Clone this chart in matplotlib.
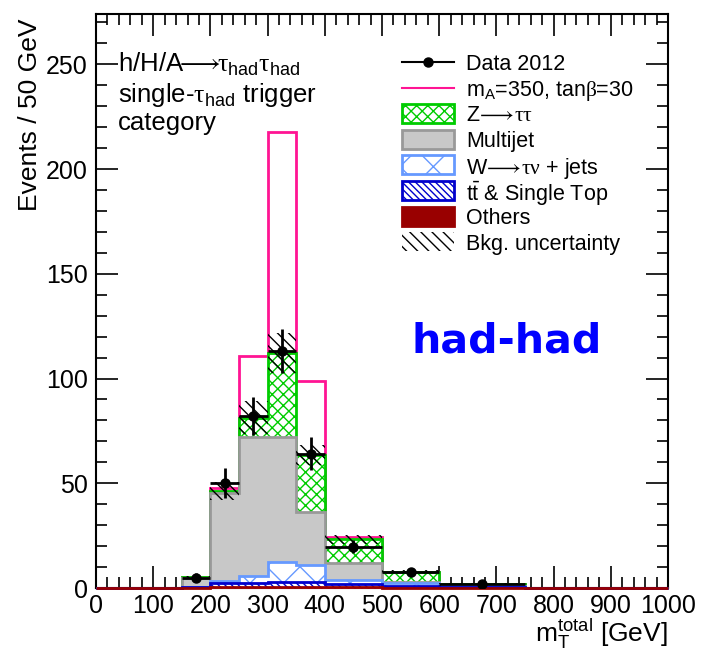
import numpy as np
import matplotlib
matplotlib.use("Agg")
import matplotlib.pyplot as plt
from matplotlib.lines import Line2D
from matplotlib.patches import Rectangle
from matplotlib.ticker import MultipleLocator

plt.rcParams['font.family'] = ['Liberation Sans', 'DejaVu Sans']
plt.rcParams['mathtext.fontset'] = 'custom'
plt.rcParams['mathtext.rm'] = 'Liberation Sans'
plt.rcParams['mathtext.it'] = 'Liberation Sans:italic'
plt.rcParams['mathtext.bf'] = 'Liberation Sans:bold'
plt.rcParams['mathtext.sf'] = 'Liberation Serif'   # upright serif Greek
plt.rcParams['mathtext.fallback'] = 'stix'
plt.rcParams['hatch.linewidth'] = 1.0

# Bin edges in m_T^total [GeV] (variable width, normalised to events / 50 GeV)
bin_edges = [0, 150, 200, 250, 300, 350, 400, 500, 600, 750, 1000]

# Background contributions per bin (events / 50 GeV), bottom of the stack first
others   = [0.0, 0.1, 0.3, 0.3, 0.4, 0.4, 0.3, 0.1, 0.05, 0.0]
ttbar    = [0.0, 0.3, 2.3, 1.9, 2.3, 2.6, 1.7, 0.9, 0.35, 0.0]
wjets    = [0.0, 0.2, 0.7, 3.5, 9.5, 8.0, 1.8, 1.2, 0.4, 0.0]
multijet = [0.0, 4.4, 41.9, 66.2, 59.8, 25.4, 8.0, 0.8, 0.2, 0.0]
ztautau  = [0.0, 0.2, 1.1, 9.4, 40.0, 27.1, 11.4, 4.8, 1.1, 0.0]
bkg_unc  = [0.0, 0.5, 4.5, 8.0, 9.5, 5.0, 2.0, 0.8, 0.3, 0.0]

# Signal m_A = 350 GeV, tan(beta) = 30, stacked on the background
signal   = [0.0, 0.0, 1.2, 29.4, 105.7, 35.3, 1.3, 0.0, 0.0, 0.0]

# Data 2012 (events / 50 GeV) with statistical errors
data     = [np.nan, 5.0, 50.2, 82.2, 113.0, 64.2, 19.7, 7.6, 1.8, np.nan]
data_err = [np.nan, 2.2, 7.1, 9.1, 10.6, 8.0, 3.1, 1.9, 0.8, np.nan]

edges = np.array(bin_edges, dtype=float)
centers = 0.5 * (edges[1:] + edges[:-1])
half_w = 0.5 * (edges[1:] - edges[:-1])

# Cumulative stack
c_oth = np.array(others)
c_tt = c_oth + np.array(ttbar)
c_w = c_tt + np.array(wjets)
c_mj = c_w + np.array(multijet)
c_z = c_mj + np.array(ztautau)
c_sig = c_z + np.array(signal)
unc = np.array(bkg_unc)

W, H = 701, 653
fig = plt.figure(figsize=(W / 100, H / 100), dpi=100)
ax = fig.add_axes([96 / W, 65 / H, 572 / W, 574 / H])

col_sig = '#ff1493'
col_z = '#00cc00'
col_mj_f = '#c8c8c8'
col_mj_e = '#999999'
col_w = '#6699ff'
col_tt = '#0000cc'
col_oth = '#990000'

styles = {
    'z':   dict(facecolor='white', edgecolor=col_z, hatch='xxx', lw=2),
    'mj':  dict(facecolor=col_mj_f, edgecolor=col_mj_e, lw=2),
    'w':   dict(facecolor='white', edgecolor=col_w, hatch='x', lw=2),
    'tt':  dict(facecolor='white', edgecolor=col_tt, hatch='\\' * 5, lw=2),
    'oth': dict(facecolor=col_oth, edgecolor=col_oth, lw=2),
    'unc': dict(facecolor='none', edgecolor='black', hatch='\\' * 3, lw=0),
}

# Signal + background outline (underneath the stack)
ax.stairs(c_sig, edges, baseline=0, fill=False, color=col_sig, lw=2, zorder=1)

# Stack: each cumulative histogram drawn from zero, largest first
for z, (vals, key) in enumerate([(c_z, 'z'), (c_mj, 'mj'), (c_w, 'w'),
                                 (c_tt, 'tt'), (c_oth, 'oth')]):
    ax.stairs(vals, edges, baseline=0, fill=True, zorder=2 + z,
              clip_on=False, **styles[key])

# Background uncertainty band
ax.stairs(c_z + unc, edges, baseline=c_z - unc, fill=True, zorder=8,
          **styles['unc'])

# Data points
ax.errorbar(centers, data, yerr=data_err, xerr=half_w, fmt='o', color='black',
            markersize=6.5, elinewidth=2, capsize=0, zorder=10)

ax.set_xlim(0, 1000)
ax.set_ylim(0, 274)
ax.xaxis.set_major_locator(MultipleLocator(100))
ax.xaxis.set_minor_locator(MultipleLocator(20))
ax.yaxis.set_major_locator(MultipleLocator(50))
ax.yaxis.set_minor_locator(MultipleLocator(10))
ax.tick_params(which='both', direction='in', top=True, right=True, width=1.2,
               labelsize=18)
ax.tick_params(which='major', length=16)
ax.tick_params(which='minor', length=8)
ax.tick_params(axis='x', pad=4)
ax.tick_params(axis='y', pad=6)
for s in ax.spines.values():
    s.set_linewidth(1.5)

fig.text(30 / W, 1 - 115 / H, 'Events / 50 GeV', rotation=90,
         ha='center', va='center', fontsize=19)
fig.text(668 / W, 1 - 642 / H, r'$\mathrm{m_T^{total}}$ [GeV]',
         ha='right', va='baseline', fontsize=19)

ARROW = r'$\!\longrightarrow\!$'
ARROW_TIGHT = r'$\!\!\longrightarrow\!\!$'
tau_had = r'$\mathsf{\tau}_{\mathrm{had}}$'
ax.text(38.5, 246.2, 'h/H/A' + ARROW_TIGHT + tau_had + tau_had,
        fontsize=18.5, va='baseline', ha='left')
ax.text(38.5, 231.9, 'single-' + tau_had + ' trigger',
        fontsize=18.5, va='baseline', ha='left')
ax.text(38.5, 218.5, 'category', fontsize=18.5, va='baseline', ha='left')

ax.text(718.5, 112.3, 'had-had', color='#0000ff', fontsize=29.5,
        fontweight='bold', family='DejaVu Sans', ha='center', va='baseline')

# Legend, laid out row by row in figure pixels
labels = [
    'Data 2012',
    r'm$_{\mathrm{A}}$=350, tan$\mathsf{\beta}$=30',
    'Z' + ARROW + r'$\mathsf{\tau\tau}$',
    'Multijet',
    'W' + ARROW + r'$\mathsf{\tau\nu}$ + jets',
    r'$\mathrm{t\bar{t}}$ & Single Top',
    'Others',
    'Bkg. uncertainty',
]
kinds = ['data', 'sig', 'z', 'mj', 'w', 'tt', 'oth', 'unc']
x0, x1, xt = 402, 454, 466
y_first, dy, box_h = 62, 25.7, 19
for i, (kind, lab) in enumerate(zip(kinds, labels)):
    yc = y_first + dy * i
    yf = 1 - yc / H
    if kind == 'data':
        fig.add_artist(Line2D([x0 / W, x1 / W], [yf, yf], color='black', lw=1.5))
        fig.add_artist(Line2D([(x0 + x1) / 2 / W], [yf], marker='o',
                              color='black', markersize=6.5))
    elif kind == 'sig':
        fig.add_artist(Line2D([x0 / W, x1 / W], [yf, yf], color=col_sig, lw=1.5))
    else:
        fig.add_artist(Rectangle((x0 / W, 1 - (yc + box_h / 2) / H),
                                 (x1 - x0) / W, box_h / H,
                                 transform=fig.transFigure, **styles[kind]))
    fig.text(xt / W, yf, lab, fontsize=15.5, ha='left', va='center_baseline')

fig.savefig('out.png', dpi=100)
